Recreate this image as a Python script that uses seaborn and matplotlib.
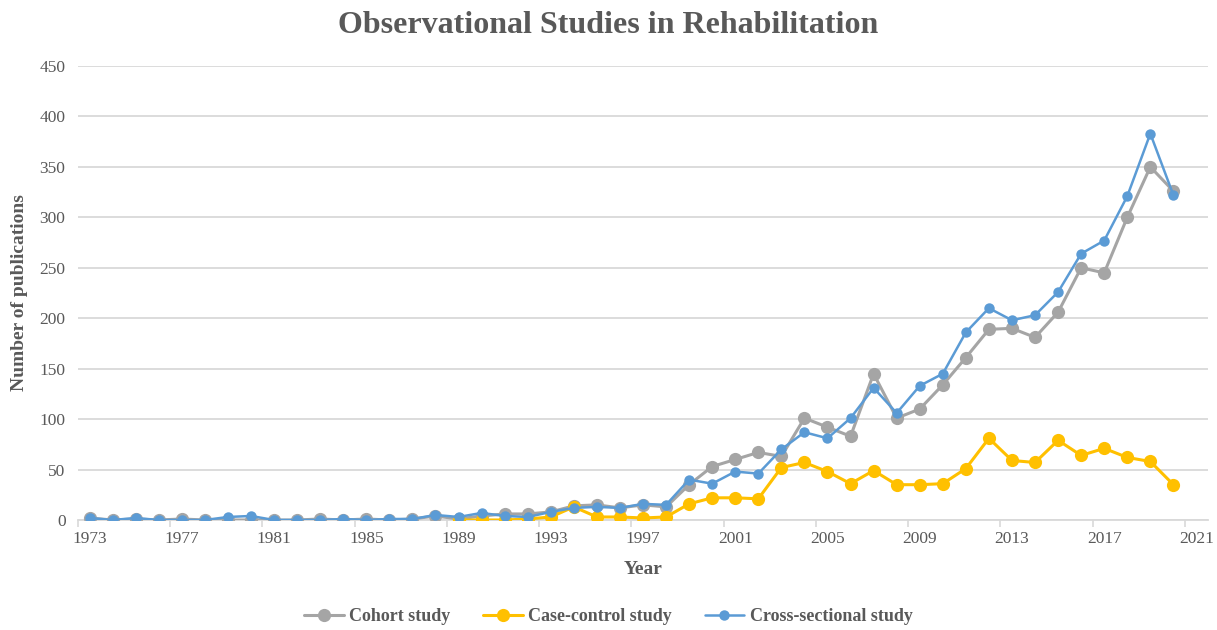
import numpy as np
import pandas as pd
import matplotlib
matplotlib.use("Agg")
import matplotlib.pyplot as plt
from matplotlib.ticker import FixedLocator, NullFormatter
import seaborn as sns

# Publication counts per year (2021 is an empty category on the axis)
years = list(range(1973, 2022))
nan = np.nan

cohort = [2, 0, 1, 0, 1, 0, 0, 0, 0, 0, 1, 0, 1, 0, 1, 4, 1, 4, 6, 6,
          8, 14, 15, 12, 15, 13, 35, 53, 60, 67, 63, 101, 92, 83, 145, 101,
          110, 134, 161, 189, 190, 181, 206, 250, 245, 300, 350, 326, nan]

case_control = [nan] * 16 + [0, 0, 0, 1, 3, 13, 3, 3, 2, 3, 16, 22, 22, 21,
                             52, 57, 48, 36, 49, 35, 35, 36, 51, 81, 59, 57,
                             79, 64, 71, 62, 58, 35, nan]

cross_sectional = [2, 0, 2, 0, 0, 0, 3, 4, 0, 0, 0, 1, 0, 1, 1, 5, 3, 7, 4, 3,
                   8, 12, 13, 12, 16, 15, 40, 36, 48, 46, 70, 87, 81, 101, 131,
                   106, 133, 145, 186, 210, 198, 203, 226, 264, 277, 321, 383,
                   322, nan]

series_names = ["Cohort study", "Case-control study", "Cross-sectional study"]
tick_years = list(range(1973, 2022, 4))
y_ticks = list(range(0, 451, 50))

df = pd.DataFrame({
    "Year": years * 3,
    "Count": cohort + case_control + cross_sectional,
    "Series": sum([[n] * len(years) for n in series_names], []),
})

sns.set_style("white")
plt.rcParams["font.family"] = ["Liberation Serif", "DejaVu Serif"]

text_grey = "#595959"
grid_grey = "#d9d9d9"
styles = {
    "Cohort study": dict(color="#A5A5A5", lw=2.2, ms=9.5),
    "Case-control study": dict(color="#FFC000", lw=2.2, ms=9.5),
    "Cross-sectional study": dict(color="#5B9BD5", lw=1.8, ms=7.5),
}

fig = plt.figure(figsize=(12.17, 6.30), dpi=100)
ax = fig.add_axes([0.0641, 0.1746, 0.9285, 0.7206])

handles = []
for name in series_names:
    st = styles[name]
    sub = df[df["Series"] == name]
    sns.lineplot(data=sub, x="Year", y="Count", ax=ax, color=st["color"],
                 linewidth=st["lw"], marker="o", markersize=st["ms"],
                 markeredgewidth=0, label=name, legend=False, zorder=3)
    handles.append(ax.lines[-1])

ax.set_xlim(1972.5, 2021.5)
ax.set_ylim(0, 450)
ax.set_yticks(y_ticks)
ax.yaxis.grid(True, color=grid_grey, linewidth=1.3)
ax.set_axisbelow(True)

ax.set_xticks(tick_years)
ax.set_xticklabels([str(y) for y in tick_years])
ax.xaxis.set_minor_locator(FixedLocator([y - 0.5 for y in tick_years]))
ax.xaxis.set_minor_formatter(NullFormatter())
ax.tick_params(axis="x", which="major", length=0, pad=8,
               labelsize=12.5, labelcolor=text_grey)
ax.tick_params(axis="x", which="minor", length=5, width=1.2,
               color=grid_grey, bottom=True)
ax.tick_params(axis="y", length=0, pad=9, labelsize=12.5,
               labelcolor=text_grey)

for side in ["left", "right", "top"]:
    ax.spines[side].set_visible(False)
ax.spines["bottom"].set_color(grid_grey)
ax.spines["bottom"].set_linewidth(1.3)

ax.set_xlabel("Year", fontsize=14, fontweight="bold", color=text_grey,
              labelpad=10)
ax.set_ylabel("Number of publications", fontsize=14, fontweight="bold",
              color=text_grey, labelpad=8)

fig.suptitle("Observational Studies in Rehabilitation", fontsize=23,
             fontweight="bold", color=text_grey, y=0.982)

leg = fig.legend(handles=handles, labels=series_names, loc="lower center",
                 bbox_to_anchor=(0.5, -0.018), ncol=3, frameon=False,
                 handlelength=2.2, columnspacing=1.8, handletextpad=0.3,
                 prop={"size": 13, "weight": "bold"})
for t in leg.get_texts():
    t.set_color(text_grey)

fig.savefig("out.png", dpi=100)
